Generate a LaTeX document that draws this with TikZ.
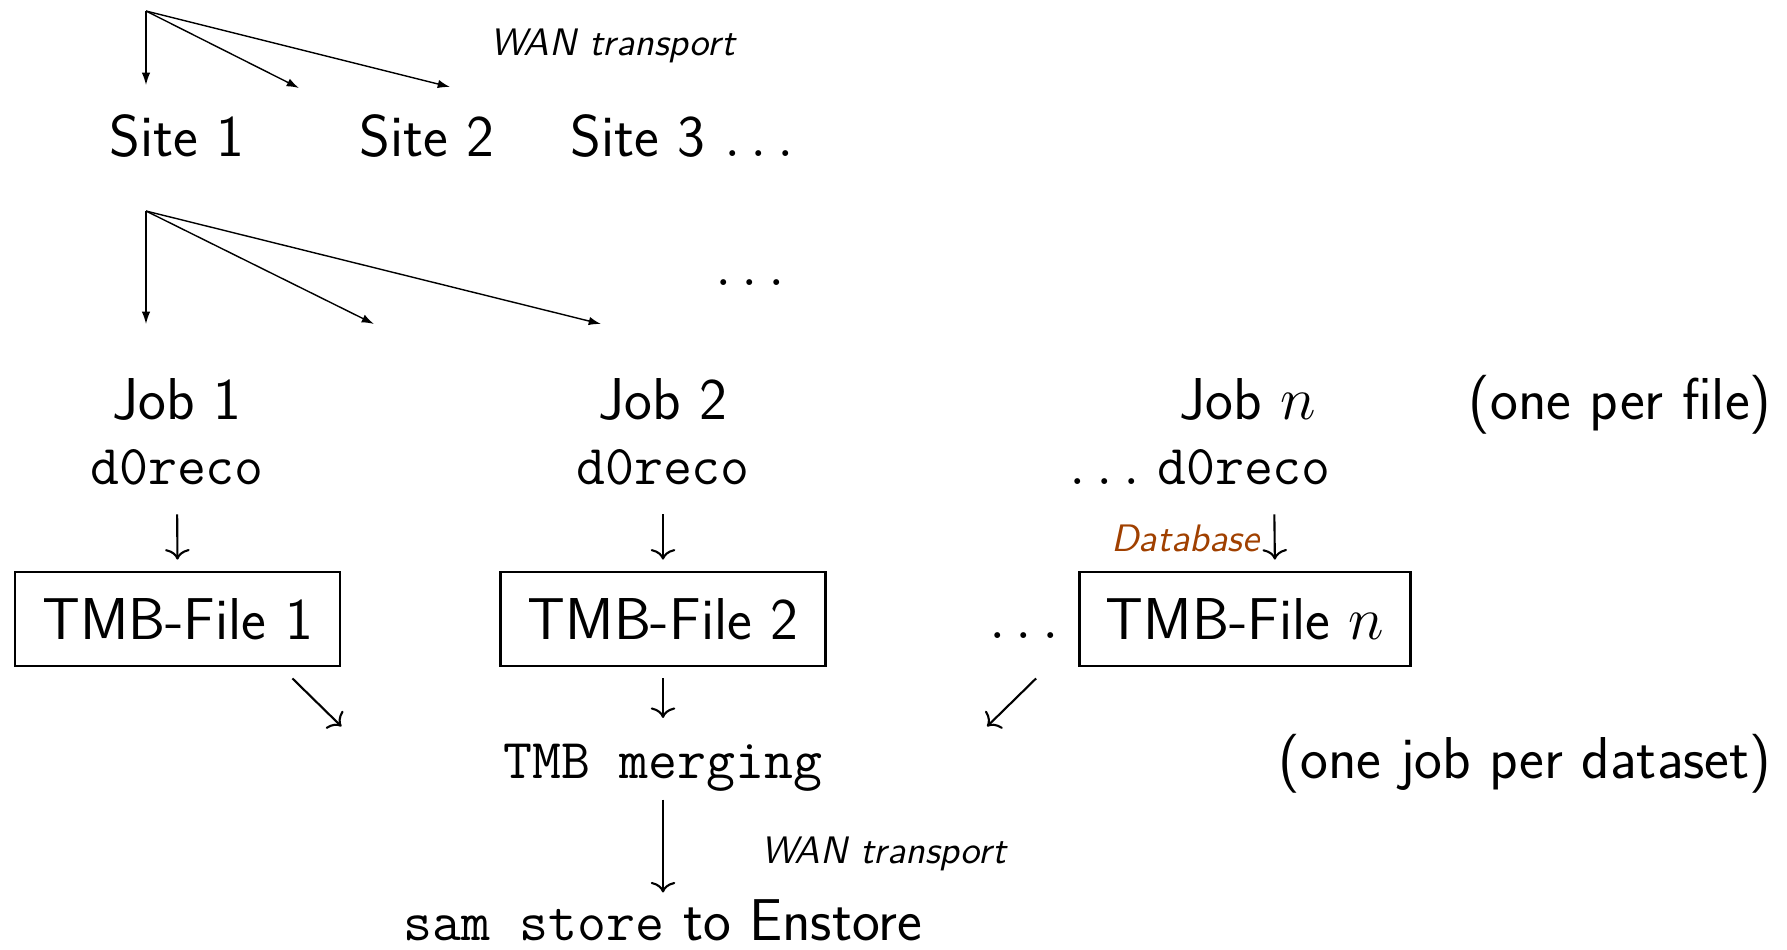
\documentclass[tikz,border=0pt]{standalone}
\usepackage{fontspec}
\usetikzlibrary{arrows.meta, positioning, calc}
\renewcommand{\familydefault}{\sfdefault}
\newcommand{\mainsize}{\fontsize{16.8}{20}\selectfont}
\newcommand{\notesize}{\fontsize{10.9}{13}\selectfont}
\newcommand{\code}[1]{{\fontsize{16}{20}\selectfont\texttt{#1}}}
\definecolor{dbbrown}{RGB}{160,64,0}

\begin{document}
\begin{tikzpicture}[
        every node/.style={inner sep=0pt, font=\mainsize},
        fan/.style={-{Latex[length=3.5pt, width=2.4pt]}, line width=0.4pt},
        flow/.style={-{To[length=3pt, width=7pt]}, line width=0.6pt},
        tmbbox/.style={draw, line width=0.8pt, minimum width=3.25cm, minimum height=0.94cm},
        note/.style={font=\notesize\itshape}
    ]
        \useasboundingbox (0,0) rectangle (17.87,-9.49);

        % Sites, fed over the WAN
        \coordinate (sitefan) at (1.46,-0.11);
        \coordinate (sitetip1) at (1.46,-0.85);
        \coordinate (sitetip2) at (2.99,-0.88);
        \coordinate (sitetip3) at (4.50,-0.87);
        \draw[fan] (sitefan) -- (sitetip1);
        \draw[fan] (sitefan) -- (sitetip2);
        \draw[fan] (sitefan) -- (sitetip3);
        \node[note, anchor=base west] (wantop) at (4.90,-0.55) {WAN transport};

        \node[anchor=base] (site1) at (1.77,-1.56) {Site 1};
        \node[anchor=base] (site2) at (4.27,-1.56) {Site 2};
        \node[anchor=base west] (site3) at (5.70,-1.56) {Site 3 $\dots$};

        % Jobs, one per file
        \coordinate (jobfan) at (1.46,-2.11);
        \coordinate (jobtip1) at (1.46,-3.24);
        \coordinate (jobtip2) at (3.74,-3.24);
        \coordinate (jobtip3) at (6.01,-3.24);
        \draw[fan] (jobfan) -- (jobtip1);
        \draw[fan] (jobfan) -- (jobtip2);
        \draw[fan] (jobfan) -- (jobtip3);
        \node[anchor=base] (jobdots) at (7.50,-2.85) {$\dots$};

        \node[anchor=base] (job1) at (1.77,-4.19) {Job 1};
        \node[anchor=base] (job2) at (6.63,-4.19) {Job 2};
        \node[anchor=base] (jobn) at (12.48,-4.19) {Job $n$};
        \node[anchor=base east] (perfile) at (17.72,-4.19) {(one per file)};

        \node[anchor=base] (reco1) at (1.77,-4.84) {\code{d0reco}};
        \node[anchor=base] (reco2) at (6.63,-4.84) {\code{d0reco}};
        \node[anchor=base] (recon) at (12.44,-4.84) {\code{d0reco}};
        \node[anchor=base east] (recodots) at ([xshift=-0.16cm]recon.base west) {$\dots$};

        % TMB files
        \node[tmbbox] (tmb1) at (1.775,-6.19) {TMB-File 1};
        \node[tmbbox] (tmb2) at (6.63,-6.19) {TMB-File 2};
        \node[tmbbox, minimum width=3.31cm] (tmbn) at (12.45,-6.19) {TMB-File $n$};
        \node[anchor=base] (tmbdots) at (10.24,-6.38) {$\dots$};

        \draw[flow, shorten <=0.29cm, shorten >=0.11cm] (reco1.south) -- (tmb1.north);
        \draw[flow, shorten <=0.29cm, shorten >=0.11cm] (reco2.south) -- (tmb2.north);
        \draw[flow, shorten <=0.29cm, shorten >=0.11cm] ([xshift=0.3cm]recon.south) -- ([xshift=0.3cm]tmbn.north)
            node[pos=0.62, left=4pt, note, text=dbbrown] (dblabel) {Database};

        % Merging, one job per dataset
        \node[anchor=base] (merge) at (6.63,-7.78) {\code{TMB merging}};
        \node[anchor=base east] (perset) at (17.72,-7.78) {(one job per dataset)};

        \draw[flow] ([xshift=-0.49cm, yshift=-0.11cm]tmb1.south east) -- ([yshift=-0.59cm]tmb1.south east);
        \draw[flow, shorten <=0.11cm] (tmb2.south) -- ($(merge.north)+(0,0.25)$);
        \draw[flow] ([xshift=-0.42cm, yshift=-0.11cm]tmbn.south west) -- ([xshift=-0.91cm, yshift=-0.59cm]tmbn.south west);

        % Storage
        \node[anchor=base] (store) at (6.63,-9.40) {\code{sam store} to Enstore};
        \draw[flow, shorten <=0.08cm, shorten >=0.06cm] (merge.south) -- (store.north);
        \node[note, anchor=base west] (wanbottom) at (7.61,-8.63) {WAN transport};
    \end{tikzpicture}
\end{document}
